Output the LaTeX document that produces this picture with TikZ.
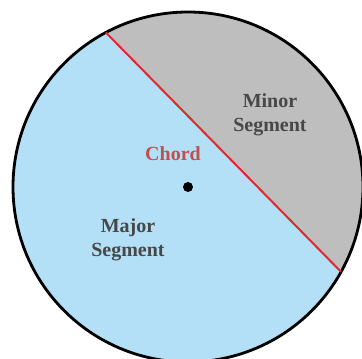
\documentclass[tikz,border=0pt]{standalone}
\usepackage{fontspec}
\setmainfont{Liberation Serif}
\usetikzlibrary{positioning}
\definecolor{majorBlue}{HTML}{B3E0F6}
\definecolor{minorGray}{HTML}{BEBEBE}
\definecolor{chordRed}{HTML}{E0282E}
\definecolor{chordText}{HTML}{C0504F}
\definecolor{labelGray}{HTML}{474747}

\begin{document}
\begin{tikzpicture}[x=1pt, y=1pt,
    seglabel/.style={font=\fontsize{20}{24}\selectfont\bfseries, text=labelGray, align=center}]
  \useasboundingbox (-188,-172) rectangle (174,187);

  % Segmento maior
  \fill[majorBlue] (0,0) circle (175);

  % Extremos da corda
  \coordinate (A) at (118:175);
  \coordinate (B) at (-29:175);

  % Segmento menor
  \fill[minorGray] (A) arc[start angle=118, end angle=-29, radius=175] -- cycle;

  % Circunferencia
  \draw[line width=2.8pt] (0,0) circle (175);

  % Corda
  \draw[chordRed, line width=2pt] (A) -- (B);

  % Centro
  \fill (0,0) circle (5) coordinate (O);

  % Rotulos
  \node[seglabel] (minor) at (82,72) {Minor\\Segment};
  \node[seglabel, text=chordText] (chord) at (-15,33) {Chord};
  \node[seglabel] (major) at (-60,-53) {Major\\Segment};
\end{tikzpicture}
\end{document}
